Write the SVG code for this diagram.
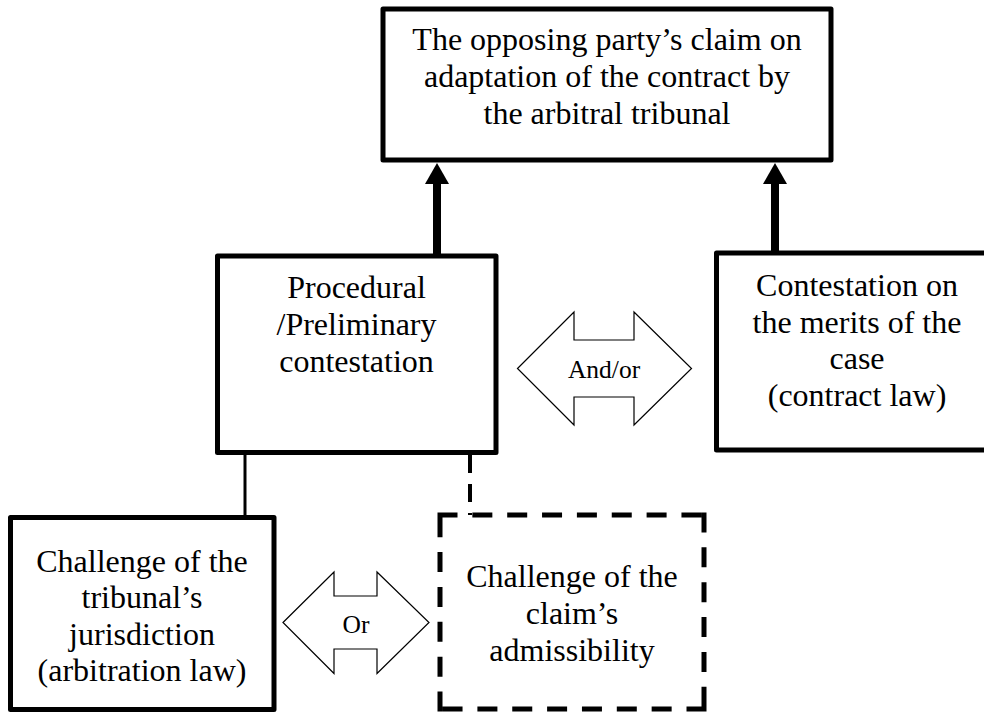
<svg xmlns="http://www.w3.org/2000/svg" width="984" height="713" viewBox="0 0 984 713">
<style>
  .box { fill: #ffffff; stroke: #000000; stroke-width: 5; stroke-linejoin: round; }
  .dbox { fill: none; stroke: #000000; stroke-width: 5; stroke-linecap: square; stroke-dasharray: 15 19.85; }
  .t { font-family: "Liberation Serif", "Times New Roman", serif; font-size: 32px; fill: #000000; text-anchor: middle; }
  .lab { font-family: "Liberation Serif", "Times New Roman", serif; font-size: 25.5px; fill: #000000; text-anchor: middle; }
  .dbl { fill: #ffffff; stroke: #000000; stroke-width: 1.2; stroke-linejoin: miter; }
  .up { stroke: #000000; stroke-width: 8; fill: none; marker-end: url(#head); }
</style>
<defs>
  <marker id="head" markerUnits="userSpaceOnUse" markerWidth="21" markerHeight="24" refX="0" refY="12" orient="auto" overflow="visible">
    <path d="M0,0 L21,12 L0,24 Z" fill="#000000"/>
  </marker>
</defs>
<rect width="984" height="713" fill="#ffffff"/>

<g id="connectors">
  <line class="up" x1="437" y1="256" x2="437" y2="184"/>
  <line class="up" x1="775" y1="253" x2="775" y2="184"/>
  <line x1="245" y1="455" x2="245" y2="516" stroke="#000000" stroke-width="3"/>
  <line x1="470" y1="455" x2="470" y2="515" stroke="#000000" stroke-width="4" stroke-dasharray="18 11"/>
</g>

<g id="claim">
  <rect class="box" x="383" y="9" width="448" height="151" stroke-width="5.5"/>
  <text class="t" x="607" y="50">The opposing party’s claim on</text>
  <text class="t" x="607" y="87">adaptation of the contract by</text>
  <text class="t" x="607" y="124">the arbitral tribunal</text>
</g>

<g id="procedural">
  <rect class="box" x="217.5" y="256" width="278.5" height="196.5"/>
  <text class="t" x="356.5" y="298">Procedural</text>
  <text class="t" x="356.5" y="335">/Preliminary</text>
  <text class="t" x="356.5" y="371.5">contestation</text>
</g>

<g id="merits">
  <rect class="box" x="716.5" y="253" width="282" height="197"/>
  <text class="t" x="857" y="296">Contestation on</text>
  <text class="t" x="857" y="332.5">the merits of the</text>
  <text class="t" x="857" y="369">case</text>
  <text class="t" x="857" y="405.5">(contract law)</text>
</g>

<g id="andor">
  <path class="dbl" d="M517.5,368.5 L574,312 L574,340 L634,340 L634,312 L691.5,368.5 L634,425 L634,397 L574,397 L574,425 Z"/>
  <text class="lab" x="604" y="378">And/or</text>
</g>

<g id="jurisdiction">
  <rect class="box" x="10.5" y="517.5" width="263.5" height="192"/>
  <text class="t" x="142" y="571.5">Challenge of the</text>
  <text class="t" x="142" y="608">tribunal’s</text>
  <text class="t" x="142" y="644.5">jurisdiction</text>
  <text class="t" x="142" y="681">(arbitration law)</text>
</g>

<g id="or">
  <path class="dbl" d="M283,622.5 L334,572 L334,596 L377,596 L377,572 L429,622.5 L377,673.5 L377,649 L334,649 L334,673.5 Z"/>
  <text class="lab" x="356" y="632.5">Or</text>
</g>

<g id="admissibility">
  <path class="dbox" d="M440,515 H704 M704,515 V709 M704,709 H440 M440,709 V515"/>
  <text class="t" x="572" y="587">Challenge of the</text>
  <text class="t" x="572" y="623.5">claim’s</text>
  <text class="t" x="572" y="660.5">admissibility</text>
</g>
</svg>
